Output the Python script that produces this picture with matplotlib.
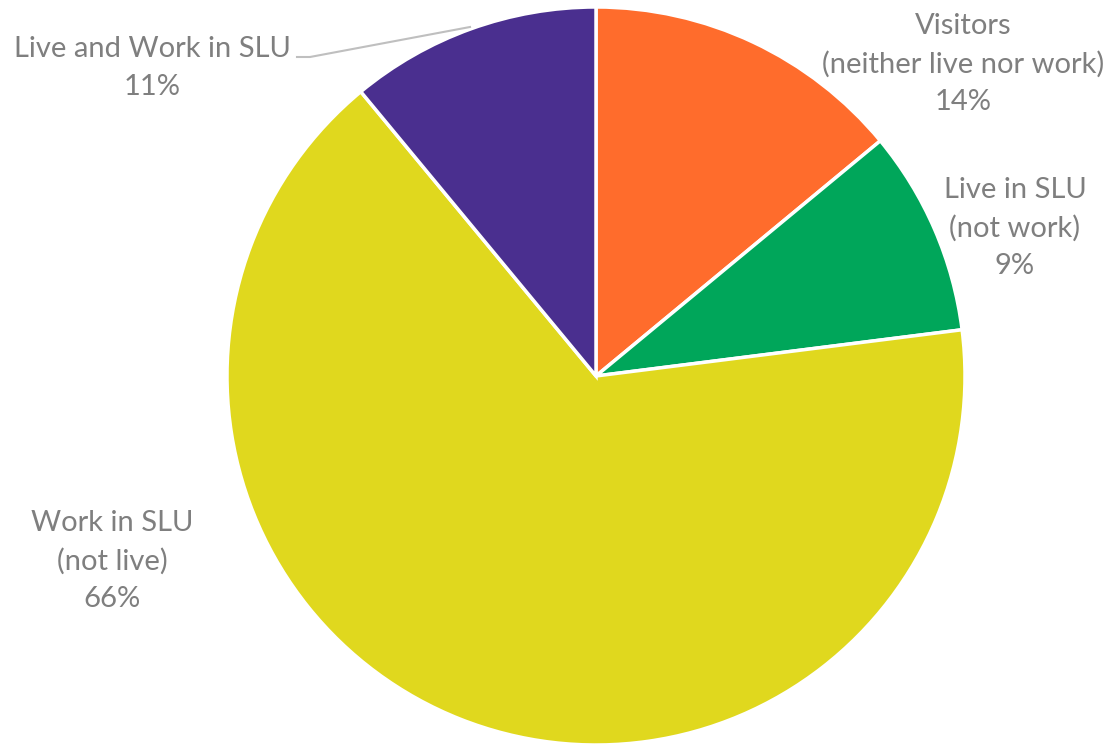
import matplotlib
matplotlib.use('Agg')
import matplotlib.pyplot as plt

# slice data, clockwise from 12 o'clock
labels = ['Visitors\n(neither live nor work)', 'Live in SLU\n(not work)',
          'Work in SLU\n(not live)', 'Live and Work in SLU']
shares = [14, 9, 66, 11]
colors = ['#FF6C2C', '#00A65A', '#E0D81E', '#4A2F8F']

W, H = 1111, 744
CX, CY, R = 596, 376, 369


def px(x, y):
    """pixel position in the picture -> data coords of the pie axes"""
    return (x - CX) / R, (CY - y) / R


fig = plt.figure(figsize=(W / 100, H / 100), dpi=100)
ax = fig.add_axes([(CX - R) / W, (H - CY - R) / H, 2 * R / W, 2 * R / H])
ax.pie(shares, colors=colors, startangle=90, counterclock=False, radius=1,
       wedgeprops=dict(edgecolor='white', linewidth=2.5))
ax.set_xlim(-1, 1)
ax.set_ylim(-1, 1)
ax.set_aspect('equal')
ax.axis('off')

# label positions (pixels) for each slice
label_pos = [(963, 64), (1015, 228), (112, 561), (152, 68)]
for lab, val, (x, y) in zip(labels, shares, label_pos):
    ax.text(*px(x, y), '{}\n{}%'.format(lab, val), ha='center', va='center',
            fontsize=21, color='#7F7F7F', family='Lato', linespacing=1.55,
            clip_on=False)

# leader line for the small purple slice
xs, ys = zip(px(297, 57), px(310, 57), px(470, 27))
ax.plot(xs, ys, color='#BFBFBF', linewidth=1.5, clip_on=False)

fig.savefig('out.png', dpi=100)
